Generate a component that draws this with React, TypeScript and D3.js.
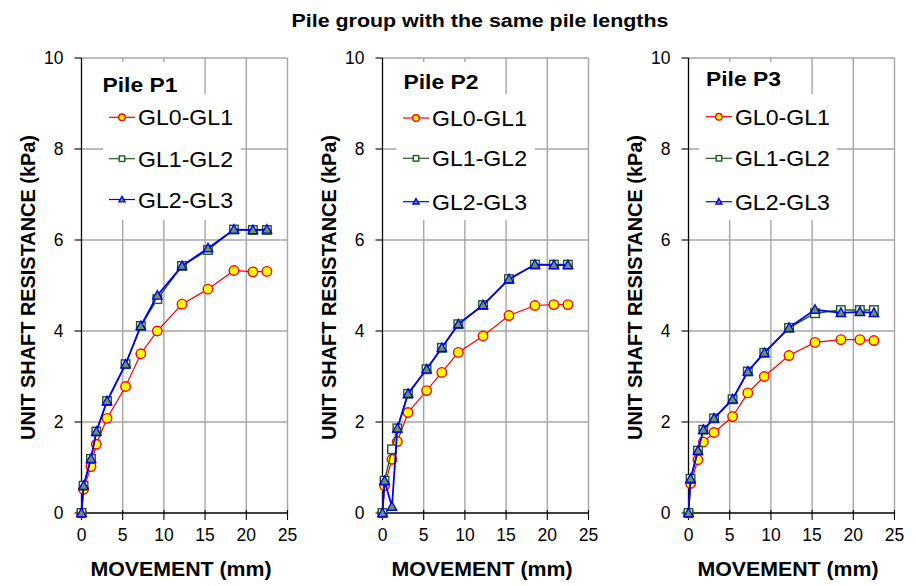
import React from "react";
import * as d3 from "d3";

// ---- data ----
const movement = [0, 0.25, 1.15, 1.8, 3.1, 5.35, 7.2, 9.2, 12.2, 15.35, 18.5, 20.8, 22.5];

const p1GL01 = [0, 0.52, 1.02, 1.51, 2.08, 2.78, 3.5, 4.0, 4.59, 4.92, 5.33, 5.3, 5.31];
const p1GL12 = [0, 0.6, 1.19, 1.79, 2.46, 3.27, 4.11, 4.7, 5.43, 5.78, 6.23, 6.22, 6.22];
const p1GL23 = [0, 0.6, 1.19, 1.79, 2.46, 3.27, 4.11, 4.78, 5.43, 5.82, 6.23, 6.22, 6.23];

const p2GL01 = [0, 0.6, 1.18, 1.57, 2.21, 2.69, 3.09, 3.53, 3.89, 4.34, 4.56, 4.58, 4.58];
const p2GL12 = [0, 0.71, 1.4, 1.86, 2.62, 3.16, 3.63, 4.15, 4.57, 5.14, 5.46, 5.46, 5.46];
const p2GL23 = [0, 0.71, 0.14, 1.86, 2.62, 3.16, 3.63, 4.15, 4.57, 5.14, 5.46, 5.45, 5.45];

const p3GL01 = [0, 0.65, 1.17, 1.56, 1.77, 2.12, 2.64, 3.0, 3.46, 3.75, 3.81, 3.81, 3.79];
const p3GL12 = [0, 0.75, 1.37, 1.83, 2.08, 2.5, 3.11, 3.52, 4.07, 4.39, 4.46, 4.46, 4.46];
const p3GL23 = [0, 0.75, 1.37, 1.83, 2.08, 2.5, 3.11, 3.52, 4.07, 4.47, 4.4, 4.42, 4.4];

const pileNames = ["Pile P1", "Pile P2", "Pile P3"];
const seriesNames = ["GL0-GL1", "GL1-GL2", "GL2-GL3"];
const xTicks = [0, 5, 10, 15, 20, 25];
const yTicks = [0, 2, 4, 6, 8, 10];
const chartTitle = "Pile group with the same pile lengths";
const xTitle = "MOVEMENT (mm)";
const yTitle = "UNIT SHAFT RESISTANCE (kPa)";

const panelData = [
  [p1GL01, p1GL12, p1GL23],
  [p2GL01, p2GL12, p2GL23],
  [p3GL01, p3GL12, p3GL23],
];

// ---- layout ----
const W = 916;
const H = 586;
const FONT = "Arial, 'Liberation Sans', sans-serif";
const panelX0 = [81.5, 382.5, 688.5];
const plotW = 206;
const yTop = 58;
const yBot = 513;
const legendLayout = [
  { titleX: 21, titleY: 91.5, lineX: 27.5, rows: [117.3, 158.7, 199.5], boxL: 21.5, boxR: 159.5 },
  { titleX: 21, titleY: 89.3, lineX: 20.5, rows: [118, 158.3, 201.7], boxL: 14, boxR: 152.5 },
  { titleX: 17.5, titleY: 86, lineX: 17.4, rows: [116.7, 158.3, 201.7], boxL: 10.7, boxR: 148.4 },
];

const RED = "#ff0000";
const GREEN = "#1f5a1f";
const BLUE = "#0000ff";
const GRID = "#a6a6a6";

function Marker({ kind, x, y, s }: { kind: number; x: number; y: number; s: number }) {
  if (kind === 0) {
    return <circle cx={x} cy={y} r={s * 0.5} fill="#ffff00" stroke={RED} strokeWidth={1.4} />;
  }
  if (kind === 1) {
    return (
      <rect x={x - s / 2} y={y - s / 2} width={s} height={s} fill="#ffffff" stroke={GREEN} strokeWidth={1.4} />
    );
  }
  const h = s * 0.95;
  const p = `${x},${y - h * 0.6} ${x + s * 0.55},${y + h * 0.45} ${x - s * 0.55},${y + h * 0.45}`;
  return <polygon points={p} fill="#6e9a46" stroke={BLUE} strokeWidth={1.4} />;
}

function Panel({ idx }: { idx: number }) {
  const x0 = panelX0[idx];
  const x = d3.scaleLinear().domain([0, 25]).range([x0, x0 + plotW]);
  const y = d3.scaleLinear().domain([0, 10]).range([yBot, yTop]);
  const lay = legendLayout[idx];
  const series = panelData[idx];
  const colors = [RED, GREEN, BLUE];
  const widths = [1.2, 1.4, 1.8];
  const line = d3
    .line<number>()
    .x((_, i) => x(movement[i]))
    .y((d) => y(d));

  return (
    <g>
      {/* gridlines */}
      {xTicks.slice(1).map((t) => (
        <line key={"gx" + t} x1={x(t)} x2={x(t)} y1={yBot} y2={yTop} stroke={GRID} strokeWidth={1.4} />
      ))}
      {yTicks.slice(1).map((t) => (
        <line key={"gy" + t} x1={x0} x2={x0 + plotW} y1={y(t)} y2={y(t)} stroke={GRID} strokeWidth={1.4} />
      ))}
      {/* legend boxes */}
      <rect x={x0 + 12} y={62} width={106} height={33} fill="#ffffff" />
      <rect x={x0 + lay.boxL} y={94} width={lay.boxR - lay.boxL} height={126} fill="#ffffff" />
      {/* axes */}
      <line x1={x0} x2={x0} y1={yTop} y2={yBot} stroke="#000" strokeWidth={1.3} />
      <line x1={x0} x2={x0 + plotW} y1={yBot} y2={yBot} stroke="#000" strokeWidth={1.3} />
      {yTicks.map((t) => (
        <g key={"ty" + t}>
          <line x1={x0 - 7} x2={x0} y1={y(t)} y2={y(t)} stroke="#000" strokeWidth={1.1} />
          <text x={x0 - 18} y={y(t) + 6} textAnchor="end" fontSize={17.5} fontFamily={FONT} fill="#000">
            {t}
          </text>
        </g>
      ))}
      {xTicks.map((t) => (
        <g key={"tx" + t}>
          <line x1={x(t)} x2={x(t)} y1={yBot - 3} y2={yBot + 7} stroke="#000" strokeWidth={1.1} />
          <text x={x(t)} y={541} textAnchor="middle" fontSize={17.5} fontFamily={FONT} fill="#000">
            {t}
          </text>
        </g>
      ))}
      <text
        transform={`translate(${x0 + 99.5},576) scale(1.04,1)`}
        textAnchor="middle"
        fontSize={20.5}
        fontWeight="bold"
        fontFamily={FONT}
      >
        {xTitle}
      </text>
      <text
        transform={`translate(${x0 - 46.5},287.5) rotate(-90)`}
        textAnchor="middle"
        fontSize={20.5}
        fontWeight="bold"
        fontFamily={FONT}
        textLength={305}
        lengthAdjust="spacingAndGlyphs"
      >
        {yTitle}
      </text>
      {/* series */}
      {series.map((vals, si) => (
        <g key={"s" + si}>
          <path d={line(vals) || ""} fill="none" stroke={colors[si]} strokeWidth={widths[si]} />
          {vals.map((v, i) => (
            <Marker key={i} kind={si} x={x(movement[i])} y={y(v)} s={si === 0 ? 9.5 : 8.5} />
          ))}
        </g>
      ))}
      {/* legend */}
      <text
        transform={`translate(${x0 + lay.titleX},${lay.titleY}) scale(1.116,1)`}
        fontSize={20.5}
        fontWeight="bold"
        fontFamily={FONT}
      >
        {pileNames[idx]}
      </text>
      {seriesNames.map((nm, si) => {
        const ly = lay.rows[si];
        const lx = x0 + lay.lineX;
        return (
          <g key={"l" + si}>
            <line x1={lx} x2={lx + 26} y1={ly} y2={ly} stroke={colors[si]} strokeWidth={1.2} />
            <Marker kind={si} x={lx + 13} y={ly} s={si === 0 ? 6.5 : 5.5} />
            <text
              transform={`translate(${lx + 29},${ly + 8}) scale(1.05,1)`}
              fontSize={22}
              fontFamily={FONT}
            >
              {nm}
            </text>
          </g>
        );
      })}
    </g>
  );
}

export default function App() {
  return (
    <svg
      width={W}
      height={H}
      viewBox={`0 0 ${W} ${H}`}
      style={{ position: "absolute", left: 0, top: 0, background: "#fff" }}
    >
      <rect x={0} y={0} width={W} height={H} fill="#fff" />
      <text
        transform="translate(480,27) scale(1.157,1)"
        textAnchor="middle"
        fontSize={18.5}
        fontWeight="bold"
        fontFamily={FONT}
      >
        {chartTitle}
      </text>
      {[0, 1, 2].map((i) => (
        <Panel key={i} idx={i} />
      ))}
    </svg>
  );
}
